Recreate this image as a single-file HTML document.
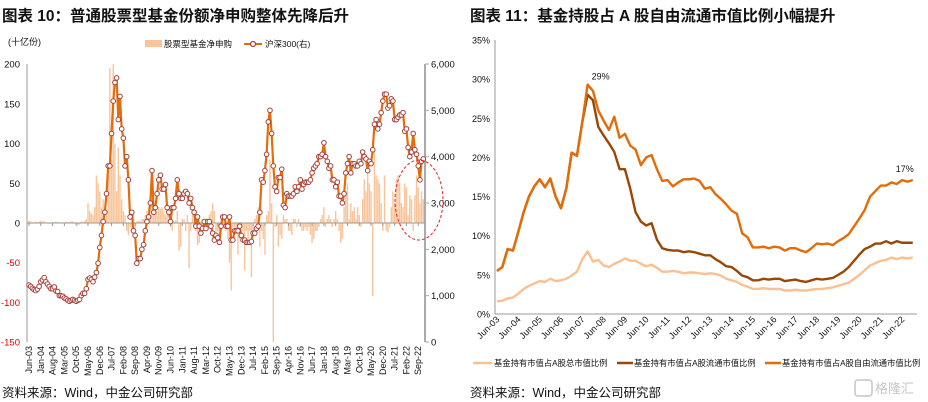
<!DOCTYPE html>
<html><head><meta charset="utf-8">
<style>
body{margin:0;background:#fff;}
svg{display:block;font-family:"Liberation Sans","Noto Sans CJK SC",sans-serif;}
</style></head>
<body>
<svg id="root" width="928" height="402" viewBox="0 0 928 402">
  <text x="2" y="21" font-size="15.5" font-weight="bold" fill="#111">图表 10：普通股票型基金份额净申购整体先降后升</text>
  <text x="470" y="21" font-size="15.5" font-weight="bold" fill="#111">图表 11：基金持股占 A 股自由流通市值比例小幅提升</text>
  <text x="8" y="45" font-size="9" fill="#111">(十亿份)</text>
  <g>
    <rect x="145" y="40" width="17" height="7" fill="#F9C49A"/>
    <text x="164" y="47" font-size="8.5" fill="#111">股票型基金净申购</text>
    <line x1="244" y1="44" x2="262" y2="44" stroke="#E46C0A" stroke-width="2"/>
    <circle cx="253" cy="44" r="2.5" fill="#fff" stroke="#A8403A" stroke-width="1.2"/>
    <text x="265" y="47" font-size="8.5" fill="#111">沪深300(右)</text>
  </g>
  <g id="left"></g>
  <g id="right"></g>
  <g>
    <line x1="473" y1="363" x2="492" y2="363" stroke="#FAC090" stroke-width="2.5"/>
    <text x="494" y="366" font-size="8.3" fill="#111">基金持有市值占A股总市值比例</text>
    <line x1="617" y1="363" x2="633" y2="363" stroke="#984806" stroke-width="2.5"/>
    <text x="634" y="366" font-size="8.3" fill="#111">基金持有市值占A股流通市值比例</text>
    <line x1="765" y1="363" x2="781" y2="363" stroke="#E36C09" stroke-width="2.5"/>
    <text x="782" y="366" font-size="8.3" fill="#111">基金持有市值占A股自由流通市值比例</text>
  </g>
  <text x="2" y="397" font-size="12.5" fill="#111">资料来源：Wind，中金公司研究部</text>
  <text x="470" y="397" font-size="12.5" fill="#111">资料来源：Wind，中金公司研究部</text>
  <g opacity="0.55">
    <rect x="855" y="380" width="17" height="16" rx="3" fill="none" stroke="#999" stroke-width="1.5"/>
    <text x="875" y="393" font-size="13" fill="#999">格隆汇</text>
  </g>
  <ellipse cx="419" cy="200" rx="24" ry="40" fill="none" stroke="#E8202A" stroke-width="1" stroke-dasharray="3,2"/>
</svg>
<script>
// ---------- Left chart data (monthly Jun-03 .. Dec-22) ----------
const netPurchase = [3,2,-1,1,2,1,2,
3,2,2,1,1,-1,1,1,1,2,1,1,
1,1,-1,2,1,1,2,2,1,-1,-3,-2,
2,1,3,5,25,15,12,10,20,60,50,40,
20,30,15,10,60,195,80,200,100,40,95,60,
30,15,10,-10,-15,-5,-10,15,-15,2,3,2,
5,5,10,15,20,10,35,30,15,15,20,18,
20,15,10,12,5,-5,-10,2,3,15,-35,-30,
5,5,-10,10,-57,-10,15,5,-10,-28,-25,-10,
3,5,-5,-5,10,15,25,15,-15,-10,-25,5,
5,-5,-10,-20,-50,-85,-5,-5,-10,-40,-20,-5,
-10,-60,-10,-20,-10,-68,-10,5,10,20,-30,-10,
-20,-40,10,15,80,25,-150,-5,10,-30,-15,-20,
10,5,5,-10,-10,-15,5,5,-5,5,-5,-10,
-10,-5,-10,-5,-15,-25,-20,-10,-10,-5,5,10,
20,-5,5,10,5,-5,5,15,5,-10,-25,-20,
20,40,50,5,25,15,20,5,20,10,-5,30,
55,40,80,50,40,-92,95,60,55,50,25,-10,
60,-10,-12,-5,20,40,25,55,60,50,25,20,
50,45,10,35,30,-10,35,60,45,25,40,30];
const csi300 = [1230,1200,1160,1130,1110,1140,1200,
1300,1340,1390,1300,1250,1200,1150,1150,1190,1100,1090,1000,
1000,990,950,930,900,880,900,920,900,880,900,920,
1000,1050,1050,1150,1350,1380,1350,1300,1400,1500,1700,2040,
2300,2600,2800,3200,3800,3800,4500,5200,5600,5700,4800,5300,
4600,4400,3800,4000,3500,2700,2800,2400,2300,1700,1800,1800,
2000,2100,2400,2600,2700,3000,3700,2800,2900,3200,3500,3600,
3300,3300,3400,2900,2800,2600,2900,2900,3100,3500,3200,3100,
3100,3200,3250,3200,3000,3100,2900,2800,2500,2700,2500,2350,
2450,2600,2450,2600,2600,2500,2350,2200,2300,2250,2150,2500,
2700,2700,2500,2500,2700,2200,2200,2400,2400,2400,2500,2300,
2200,2200,2150,2150,2150,2170,2350,2350,2450,2500,2800,3500,
3450,3700,4050,4750,5000,4500,3800,3350,3250,3550,3550,3730,
2950,2900,3200,3150,3150,3150,3200,3350,3250,3350,3500,3300,
3400,3450,3450,3450,3500,3650,3750,3800,3850,4000,4000,4050,
4300,4000,3900,3750,3800,3500,3500,3350,3450,3150,3150,3000,
3200,3650,3850,4000,3650,3850,3850,3800,3800,3900,3850,4100,
4000,3950,3700,3900,3850,4150,4700,4800,4600,4700,4950,5200,
5350,5350,5050,5100,5250,5200,4800,4800,4850,4900,4900,4950,
4550,4600,4200,4000,4100,4500,4150,4050,3800,3500,3900,3950];
const leftTicks = [200,150,100,50,0,-50,-100,-150];
const rightTicks = [6000,5000,4000,3000,2000,1000,0];
const leftXLabels = ["Jun-03","Jan-04","Aug-04","Mar-05","Oct-05","May-06","Dec-06","Jul-07","Feb-08","Sep-08","Apr-09","Nov-09","Jun-10","Jan-11","Aug-11","Mar-12","Oct-12","May-13","Dec-13","Jul-14","Feb-15","Sep-15","Apr-16","Nov-16","Jun-17","Jan-18","Aug-18","Mar-19","Oct-19","May-20","Dec-20","Jul-21","Feb-22","Sep-22"];

// ---------- Right chart data (quarterly Jun-03 .. Dec-22) ----------
const freeFloatRatio = [5.5,6.0,8.3,8.1,10.5,13.0,15.0,16.3,17.2,16.2,17.3,15.0,13.5,16.0,20.6,20.2,24.5,29.3,28.5,26.0,24.7,23.5,25.2,22.5,23.0,21.5,21.0,19.0,20.0,20.3,18.5,17.0,17.1,16.3,16.8,17.2,17.2,17.3,17.0,16.0,16.2,15.3,14.7,14.0,13.2,12.8,10.3,9.8,8.5,8.5,8.6,8.4,8.6,8.5,8.1,8.4,8.4,8.1,7.9,8.4,9.0,8.9,9.0,8.8,9.3,9.7,10.2,11.2,12.2,13.3,15.0,15.7,16.4,16.4,16.8,16.6,17.1,16.9,17.1];
const floatRatio = [5.5,6.0,8.3,8.1,10.5,13.0,15.0,16.3,17.2,16.2,17.3,15.0,13.5,16.0,20.6,20.2,24.5,28.0,27.3,23.9,22.8,21.8,20.7,18.5,18.5,16.0,13.0,11.8,11.3,11.6,9.5,8.4,8.2,8.1,8.1,7.9,8.0,7.9,7.7,7.5,7.5,7.0,6.6,6.1,6.0,5.5,4.9,4.7,4.3,4.3,4.5,4.4,4.5,4.5,4.2,4.3,4.4,4.2,4.1,4.3,4.5,4.4,4.5,4.6,5.0,5.4,6.0,6.8,7.6,8.3,8.6,9.0,9.0,9.3,9.0,9.3,9.1,9.1,9.1];
const totalRatio = [1.6,1.7,2.0,2.1,2.6,3.2,3.6,3.9,4.2,4.1,4.5,4.2,4.3,4.5,4.9,5.4,7.0,8.0,6.7,6.9,6.2,6.0,6.4,6.7,7.1,6.8,6.8,6.4,6.1,6.3,5.9,5.4,5.4,5.5,5.4,5.2,5.3,5.3,5.2,5.1,5.2,5.1,4.9,4.5,4.3,4.1,3.7,3.5,3.2,3.2,3.3,3.2,3.2,3.2,3.0,3.0,3.1,3.0,3.0,3.1,3.2,3.2,3.3,3.4,3.6,3.8,4.0,4.5,5.0,5.6,6.2,6.5,6.8,6.9,7.2,7.0,7.2,7.1,7.2];
const pctTicks = [35,30,25,20,15,10,5,0];
const rightXLabels = ["Jun-03","Jun-04","Jun-05","Jun-06","Jun-07","Jun-08","Jun-09","Jun-10","Jun-11","Jun-12","Jun-13","Jun-14","Jun-15","Jun-16","Jun-17","Jun-18","Jun-19","Jun-20","Jun-21","Jun-22"];

const NS = "http://www.w3.org/2000/svg";
function mk(parent, tag, attrs){const e=document.createElementNS(NS,tag);for(const k in attrs)e.setAttribute(k,attrs[k]);parent.appendChild(e);return e;}

// ----- Left chart -----
const L = document.getElementById('left');
const lx = m => 29 + m*1.685;
const ly = v => 223 - v*0.794;
const ry = v => 342 - v/6000*278;
mk(L,'line',{x1:27,y1:64,x2:27,y2:342,stroke:'#999','stroke-width':1});
mk(L,'line',{x1:425,y1:64,x2:425,y2:342,stroke:'#aaa','stroke-width':2});
leftTicks.forEach(t=>{
  const tx = mk(L,'text',{x:20,y:ly(t)+3.5,'font-size':9.5,'text-anchor':'end',fill:t<0?'#E00000':'#111'});
  tx.textContent=t;
  
  
});
rightTicks.forEach(t=>{
  const tx = mk(L,'text',{x:431,y:ry(t)+3.5,'font-size':9.5,fill:'#111'});
  tx.textContent=t.toLocaleString('en-US');
  
  
  mk(L,'line',{x1:425,y1:ry(t),x2:429,y2:ry(t),stroke:'#aaa'});
});
netPurchase.forEach((v,i)=>{
  const y0=ly(0), y1=ly(v);
  const b = mk(L,'rect',{x:lx(i)-0.7,y:Math.min(y0,y1),width:1.4,height:Math.abs(y1-y0),fill:'#F9C49A'});
  
  
});
mk(L,'line',{x1:27,y1:ly(0),x2:425,y2:ly(0),stroke:'#999','stroke-width':1});
leftXLabels.forEach((s,i)=>{
  const x=lx(i*7);
  mk(L,'line',{x1:x,y1:ly(0),x2:x,y2:ly(0)+3,stroke:'#999'});
  const tx = mk(L,'text',{x:0,y:0,'font-size':9,fill:'#111','text-anchor':'end',transform:`translate(${x+3},346) rotate(-90)`});
  tx.textContent=s;
  
  
});
const cl = mk(L,'polyline',{points:csi300.map((v,i)=>lx(i)+','+ry(v)).join(' '),fill:'none',stroke:'#E46C0A','stroke-width':2.2,'stroke-linejoin':'round'});


csi300.forEach((v,i)=>{
  const c = mk(L,'circle',{cx:lx(i),cy:ry(v),r:2.3,fill:'#fff',stroke:'#A8403A','stroke-width':1});
  
  
});

// ----- Right chart -----
const R = document.getElementById('right');
const qx = q => 497 + q*5.33;
const py = v => 314 - v*7.83;
mk(R,'line',{x1:495,y1:40,x2:495,y2:314,stroke:'#999'});
mk(R,'line',{x1:495,y1:314,x2:917,y2:314,stroke:'#999'});
pctTicks.forEach(t=>{
  const tx = mk(R,'text',{x:490,y:py(t)+3.5,'font-size':9,'text-anchor':'end',fill:'#111'});
  tx.textContent=t+'%';
  
  
});
rightXLabels.forEach((s,i)=>{
  const x=qx(i*4);
  const tx = mk(R,'text',{x:0,y:0,'font-size':9,fill:'#111','text-anchor':'end',transform:`translate(${x+3},320) rotate(-45)`});
  tx.textContent=s;
  
  
});
[[totalRatio,'#FAC090','total-ratio-line'],[floatRatio,'#984806','float-ratio-line'],[freeFloatRatio,'#E36C09','free-float-ratio-line']].forEach(([arr,col,name])=>{
  const p = mk(R,'polyline',{points:arr.map((v,i)=>qx(i)+','+py(v)).join(' '),fill:'none',stroke:col,'stroke-width':2.4,'stroke-linejoin':'round'});
  
  
});
const pk = freeFloatRatio.indexOf(Math.max(...freeFloatRatio));
const a1 = mk(R,'text',{x:qx(pk)+4,y:py(freeFloatRatio[pk])-5,'font-size':9,fill:'#111'});
a1.textContent=Math.round(freeFloatRatio[pk])+'%';


const last = freeFloatRatio.length-1;
const a2 = mk(R,'text',{x:qx(last)-17,y:py(freeFloatRatio[last])-8,'font-size':9,fill:'#111'});
a2.textContent=Math.round(freeFloatRatio[last])+'%';


</script>
</body></html>
